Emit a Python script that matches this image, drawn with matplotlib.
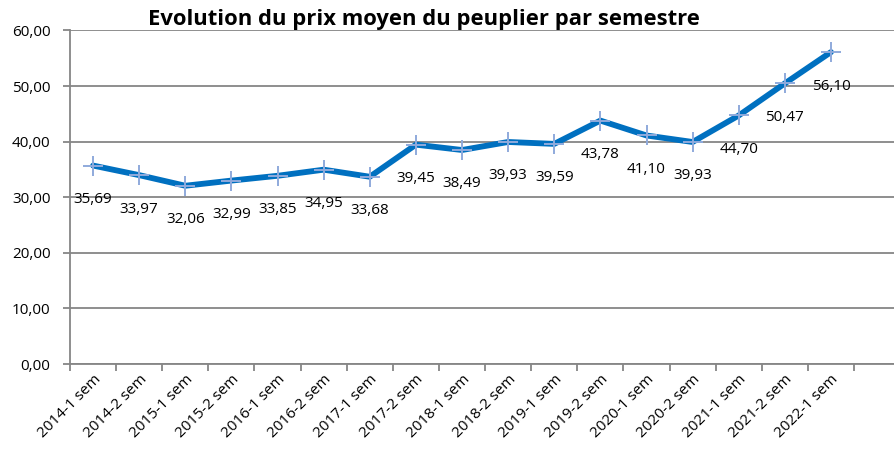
import matplotlib
matplotlib.use("Agg")
import matplotlib.pyplot as plt
from matplotlib.ticker import FuncFormatter, FixedLocator

categories = ["2014-1 sem", "2014-2 sem", "2015-1 sem", "2015-2 sem", "2016-1 sem",
              "2016-2 sem", "2017-1 sem", "2017-2 sem", "2018-1 sem", "2018-2 sem",
              "2019-1 sem", "2019-2 sem", "2020-1 sem", "2020-2 sem", "2021-1 sem",
              "2021-2 sem", "2022-1 sem"]
prices = [35.69, 33.97, 32.06, 32.99, 33.85, 34.95, 33.68, 39.45, 38.49, 39.93,
          39.59, 43.78, 41.10, 39.93, 44.70, 50.47, 56.10]
title = "Evolution du prix moyen du peuplier par semestre"

FONT = "Open Sans"
FS = 11
W, H = 894, 451
fig = plt.figure(figsize=(W / 100, H / 100), dpi=100)
left_px, right_px, top_px, bot_px = 70, 894, 30.4, 364
ax = fig.add_axes([left_px / W, (H - bot_px) / H, (right_px - left_px) / W, (bot_px - top_px) / H])

x = list(range(len(categories)))
ax.plot(x, prices, color="#0070C0", lw=4.2, solid_capstyle="round", zorder=3)
ax.plot(x, prices, ls="none", marker="+", markersize=14, markeredgewidth=1.4,
        color="#8FAADC", zorder=4)

for xi, v in zip(x, prices):
    ax.annotate(f"{v:.2f}".replace(".", ","), (xi, v), xytext=(0, -34),
                textcoords="offset pixels", ha="center", va="center",
                fontsize=FS, family=FONT, color="black", zorder=5)

step = 46.12
ax.set_xlim(-0.5, -0.5 + (right_px - left_px) / step)
ax.set_ylim(0, 60)
ax.set_yticks(range(0, 61, 10))
ax.yaxis.set_major_formatter(FuncFormatter(lambda v, p: f"{v:.2f}".replace(".", ",")))
ax.grid(axis="y", color="#868686", lw=1.3, zorder=0)

ax.xaxis.set_major_locator(FixedLocator([k - 0.5 for k in range(len(categories) + 2)]))
ax.xaxis.set_minor_locator(FixedLocator(x))
ax.set_xticklabels([], minor=False)
ax.set_xticks(x, categories, minor=True)
ax.tick_params(axis="x", which="major", length=5, width=1.3, color="#868686")
ax.tick_params(axis="x", which="minor", length=0, pad=6)
ax.tick_params(axis="y", length=5, width=1.3, color="#868686", pad=9)
for lab in ax.get_xticklabels(minor=True):
    lab.set_rotation(45)
    lab.set_ha("right")
    lab.set_rotation_mode("anchor")
    lab.set_family(FONT)
    lab.set_fontsize(FS)
for lab in ax.get_yticklabels():
    lab.set_family(FONT)
    lab.set_fontsize(FS)

for s in ["top", "right"]:
    ax.spines[s].set_visible(False)
for s in ["left", "bottom"]:
    ax.spines[s].set_color("#868686")
    ax.spines[s].set_linewidth(1.3)

fig.text(424 / W, 1 - 20 / H, title, ha="center", va="center", fontsize=15.8,
         fontweight="bold", family=FONT)

fig.savefig("out.png", dpi=100)
